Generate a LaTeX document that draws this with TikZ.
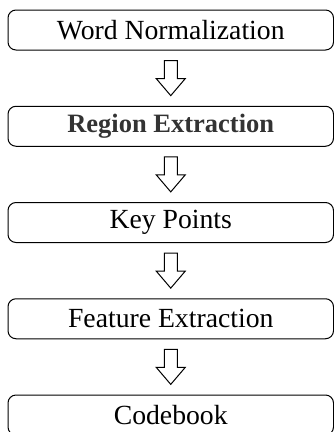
\documentclass[tikz,border=0pt]{standalone}
\usepackage{fontspec}
\setmainfont{Liberation Serif}
\usetikzlibrary{calc}
\begin{document}
\begin{tikzpicture}[x=1pt,y=1pt,
  stepbox/.style={draw=black, line width=1pt, rounded corners=8pt,
    minimum width=325.5pt, minimum height=40pt, inner sep=0pt,
    font=\fontsize{27.7}{30}\selectfont},
  blockarrow/.style={draw=black, line width=1pt, fill=white, line join=miter}]
\useasboundingbox (0,0) rectangle (334,-432);
\clip (0,0) rectangle (334,-432);
\node[stepbox] (b1) at (170.75,-30) {Word Normalization};
\node[stepbox, font=\fontsize{26.5}{30}\selectfont\bfseries, text=black!80] (b2) at (170.75,-126.25) {Region Extraction};
\node[stepbox] (b3) at (170.75,-222.5) {Key Points};
\node[stepbox] (b4) at (170.75,-318.75) {Feature Extraction};
\node[stepbox] (b5) at (170.75,-415) {Codebook};
\foreach \u/\v/\n in {b1/b2/1, b2/b3/2, b3/b4/3, b4/b5/4}{
  \coordinate (m\n) at ($(\u.south)!0.5!(\v.north)$);
  \draw[blockarrow] ($(m\n)+(-6.5,17.5)$) -- ++(13,0) -- ++(0,-18) -- ++(8,0)
    -- ++(-14.5,-17) -- ++(-14.5,17) -- ++(8,0) -- cycle;
}
\end{tikzpicture}
\end{document}
